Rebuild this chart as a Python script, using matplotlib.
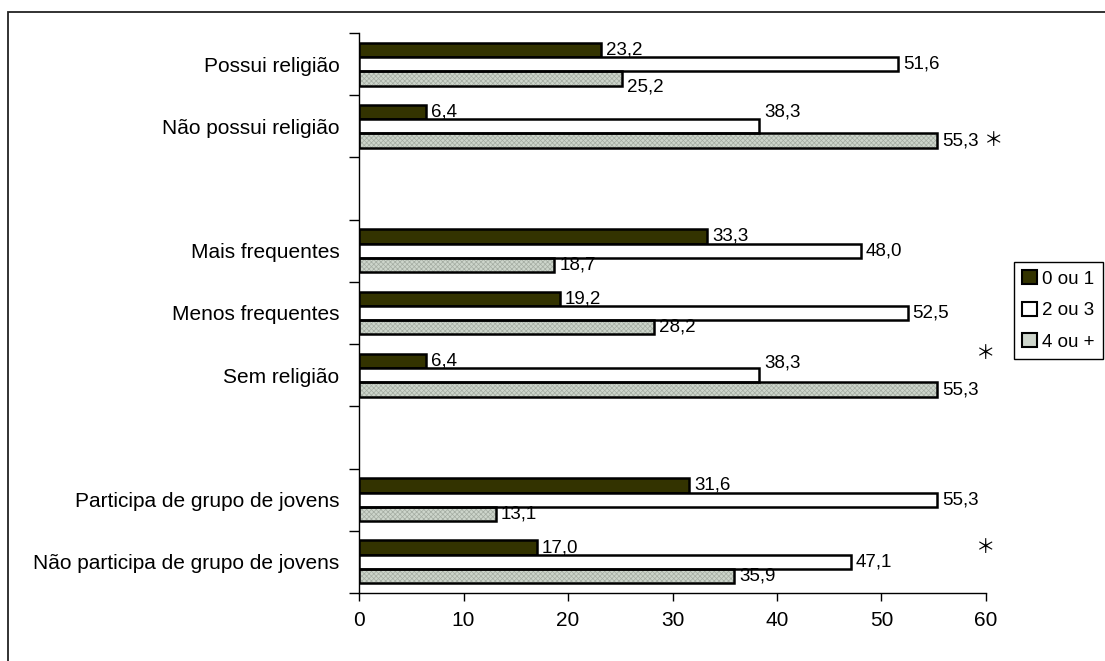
import numpy as np
import matplotlib.pyplot as plt
from matplotlib.patches import Patch, Rectangle

plt.rcParams['font.family'] = ['Liberation Sans', 'DejaVu Sans']
plt.rcParams['hatch.linewidth'] = 0.5

# categories top to bottom, '' = blank spacer row
categories = ['Possui religião', 'Não possui religião', '',
              'Mais frequentes', 'Menos frequentes', 'Sem religião', '',
              'Participa de grupo de jovens', 'Não participa de grupo de jovens']
series_names = ['0 ou 1', '2 ou 3', '4 ou +']
v_0a1 = [23.2, 6.4, None, 33.3, 19.2, 6.4, None, 31.6, 17.0]
v_2a3 = [51.6, 38.3, None, 48.0, 52.5, 38.3, None, 55.3, 47.1]
v_4mais = [25.2, 55.3, None, 18.7, 28.2, 55.3, None, 13.1, 35.9]
# asterisks: (category index, series index)
asterisks = [(1, 2), (5, 0), (8, 0)]

DARK = '#333300'
GRAY = '#cdd5cb'
HATCH_GRAY = '#a4aca2'

# label nudges (points, positive = up) copying the hand-placed labels
nudge = {(0, 2): -6, (1, 1): 10, (5, 1): 9}
# asterisk nudges (points, x and y)
ast_nudge = {(1, 2): (6, 0), (5, 0): (0, 5), (8, 0): (0, 0)}

fig = plt.figure(figsize=(11.05, 6.61), dpi=100)
ax = fig.add_axes([359 / 1105, 1 - 593 / 661, 627 / 1105, 560 / 661])

# outer frame (only left/top visible in the original)
fig.patches.append(Rectangle((8 / 1105, -0.2), 1.2, 1.2 - 12 / 661,
                             transform=fig.transFigure, fill=False,
                             edgecolor='#222222', linewidth=1.3, zorder=0))

h = 0.23
y = np.arange(len(categories))
offsets = [-h, 0, h]
all_vals = [v_0a1, v_2a3, v_4mais]

for s, vals in enumerate(all_vals):
    idx = [i for i, v in enumerate(vals) if v is not None]
    vv = [vals[i] for i in idx]
    ys = y[idx] + offsets[s]
    if s == 0:
        ax.barh(ys, vv, height=h, color=DARK, edgecolor='black', linewidth=1.8, zorder=3)
    elif s == 1:
        ax.barh(ys, vv, height=h, color='white', edgecolor='black', linewidth=1.8, zorder=3)
    else:
        ax.barh(ys, vv, height=h, color=GRAY, edgecolor=HATCH_GRAY, hatch='xxxxxxx',
                linewidth=0, zorder=2)
        ax.barh(ys, vv, height=h, fill=False, edgecolor='black', linewidth=1.8, zorder=3)
    for i, yi, v in zip(idx, ys, vv):
        ax.annotate(f'{v:.1f}'.replace('.', ','), (v, yi),
                    xytext=(3.5, nudge.get((i, s), 0)), textcoords='offset points',
                    ha='left', va='center', fontsize=13.5, zorder=4)

for ci, si in asterisks:
    ax.annotate('\uff0a', (59.0, y[ci] + offsets[si]), xytext=ast_nudge[(ci, si)],
                textcoords='offset points', ha='left', va='center',
                fontsize=14, fontfamily='Noto Sans CJK JP')

ax.set_xlim(0, 60)
ax.set_ylim(len(categories) - 0.5, -0.5)
ax.set_xticks(np.arange(0, 61, 10))
ax.tick_params(axis='x', labelsize=15, direction='out', length=6, width=1, pad=7)

ax.set_yticks(np.arange(-0.5, len(categories), 1.0))
ax.set_yticklabels([])
ax.set_yticks(y, minor=True)
ax.set_yticklabels(categories, minor=True)
ax.tick_params(axis='y', which='major', direction='out', length=7, width=1)
ax.tick_params(axis='y', which='minor', length=0, labelsize=15, pad=14)

for side in ['top', 'right']:
    ax.spines[side].set_visible(False)
for side in ['left', 'bottom']:
    ax.spines[side].set_color('black')
    ax.spines[side].set_linewidth(1)

handles = [Patch(facecolor=DARK, edgecolor='black', linewidth=1.5),
           Patch(facecolor='white', edgecolor='black', linewidth=1.5),
           Patch(facecolor=GRAY, edgecolor='black', linewidth=1.5)]
leg = fig.legend(handles, series_names, loc='upper left',
                 bbox_to_anchor=(1014 / 1105, 1 - 262 / 661), fontsize=13.5,
                 frameon=True, fancybox=False, edgecolor='black', framealpha=1,
                 handlelength=0.75, handleheight=0.75, handletextpad=0.3,
                 labelspacing=0.75, borderpad=0.45, borderaxespad=0)
leg.get_frame().set_linewidth(1)

fig.savefig('out.png', dpi=100)
